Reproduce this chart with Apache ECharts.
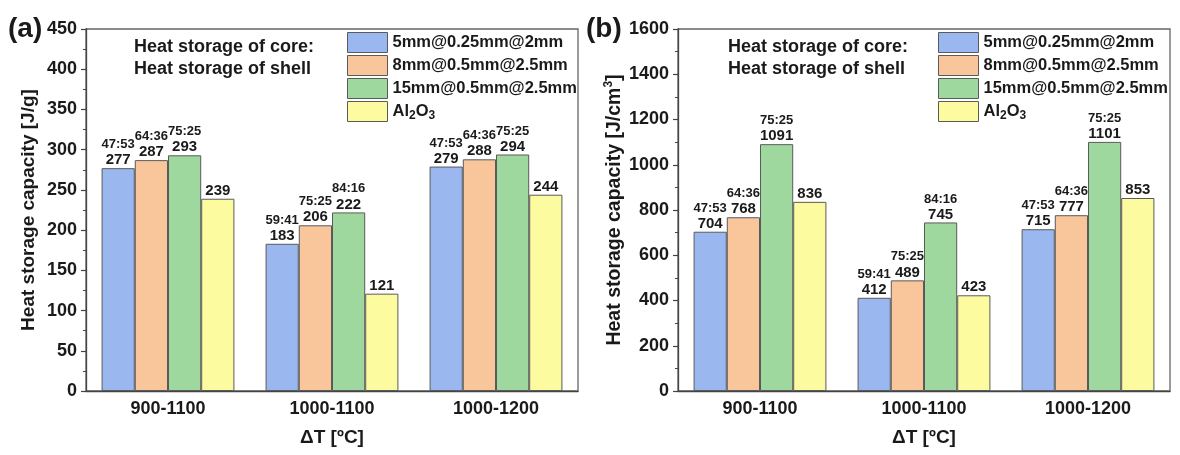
<!DOCTYPE html>
<html>
<head>
<meta charset="utf-8">
<script src="https://cdn.jsdelivr.net/npm/echarts@6/dist/echarts.min.js"></script>
<style>html,body{margin:0;padding:0;background:#fff}#c{width:1180px;height:455px}</style>
</head>
<body>
<div id="c"></div>
<script>
// ---- data ----
const categories = ['900-1100', '1000-1100', '1000-1200'];
const seriesNames = ['5mm@0.25mm@2mm', '8mm@0.5mm@2.5mm', '15mm@0.5mm@2.5mm', 'Al2O3'];
// panel (a): J/g
const a_blue = [277, 183, 279];
const a_orange = [287, 206, 288];
const a_green = [293, 222, 294];
const a_yellow = [239, 121, 244];
// panel (b): J/cm3
const b_blue = [704, 412, 715];
const b_orange = [768, 489, 777];
const b_green = [1091, 745, 1101];
const b_yellow = [836, 423, 853];
// core:shell ratios
const r_blue = ['47:53', '59:41', '47:53'];
const r_orange = ['64:36', '75:25', '64:36'];
const r_green = ['75:25', '84:16', '75:25'];
const r_yellow = [null, null, null];
const a_ticks = {min: 0, max: 450, interval: 50};
const b_ticks = {min: 0, max: 1600, interval: 200};

// ---- style ----
const FONT = 'Liberation Sans, Arial, sans-serif';
const colors = ['#9ab7ef', '#f9c59a', '#9fd89e', '#fdfb9f'];
const TXT = '#1a1a1a';

const chart = echarts.init(document.getElementById('c'), null, {renderer: 'canvas'});

function labelFor(ratios) {
  return {
    show: true, position: 'top', distance: 0,
    formatter: p => {
      const r = ratios[p.dataIndex];
      return r ? '{r|' + r + '}\n{v|' + p.value + '}' : '{v|' + p.value + '}';
    },
    rich: {
      r: {fontFamily: FONT, fontSize: 13, fontWeight: 'bold', color: TXT, lineHeight: 15},
      v: {fontFamily: FONT, fontSize: 15, fontWeight: 'bold', color: TXT, lineHeight: 16}
    }
  };
}

function mkSeries(gi, arrs, ratioArrs) {
  return arrs.map((d, i) => ({
    type: 'bar', name: seriesNames[i], xAxisIndex: gi, yAxisIndex: gi, data: d,
    barGap: '0%', barCategoryGap: '19%',
    itemStyle: {color: colors[i], borderColor: '#5a5a5a', borderWidth: 1},
    label: labelFor(ratioArrs[i]),
    emphasis: {disabled: true}
  }));
}

const legendRich = {
  n: {fontFamily: FONT, fontSize: 16.5, fontWeight: 'bold', color: TXT, lineHeight: 20},
  s: {fontFamily: FONT, fontSize: 12, fontWeight: 'bold', color: TXT, lineHeight: 13, verticalAlign: 'bottom'}
};
function legendFmt(name) {
  if (name === 'Al2O3') return '{n|Al}{s|2}{n|O}{s|3}';
  return '{n|' + name + '}';
}
function mkLegend(left) {
  return {
    left: left, top: 32, padding: 0, orient: 'vertical', itemWidth: 40, itemHeight: 20, itemGap: 2,
    icon: 'rect', data: seriesNames, selectedMode: false,
    itemStyle: {borderColor: '#5a5a5a', borderWidth: 1},
    formatter: legendFmt,
    textStyle: {rich: legendRich}
  };
}

function mkY(gi, t, nameRich) {
  return {
    type: 'value', gridIndex: gi, min: t.min, max: t.max, interval: t.interval,
    name: nameRich, nameLocation: 'middle', nameGap: gi === 0 ? 45 : 44, nameRotate: 90,
    nameTextStyle: {
      fontFamily: FONT, fontSize: 19, fontWeight: 'bold', color: TXT,
      rich: {
        m: {fontFamily: FONT, fontSize: gi === 0 ? 19 : 19.5, fontWeight: 'bold', color: TXT, lineHeight: 24},
        sup: {fontFamily: FONT, fontSize: 12, fontWeight: 'bold', color: TXT, lineHeight: 12, verticalAlign: 'top'}
      }
    },
    axisLine: {show: true, lineStyle: {color: '#444', width: 1.3}},
    axisTick: {show: true, length: 5, lineStyle: {color: '#444', width: 1.2}},
    minorTick: {show: true, splitNumber: 2, length: 3, lineStyle: {color: '#444', width: 1}},
    splitLine: {show: false},
    axisLabel: {fontFamily: FONT, fontSize: 18, fontWeight: 'bold', color: TXT, margin: 9, formatter: v => String(v)}
  };
}
function mkX(gi) {
  return {
    type: 'category', gridIndex: gi, data: categories,
    name: 'ΔT [ºC]', nameLocation: 'middle', nameGap: 37,
    nameTextStyle: {fontFamily: FONT, fontSize: 19, fontWeight: 'bold', color: TXT},
    axisLine: {show: true, lineStyle: {color: '#444', width: 1.3}},
    axisTick: {show: false},
    axisLabel: {fontFamily: FONT, fontSize: 18, fontWeight: 'bold', color: TXT, margin: 9}
  };
}

function heatText(x) {
  return [
    {type: 'text', left: x, top: 38, style: {text: 'Heat storage of core:', fontFamily: FONT, fontSize: 18, fontWeight: 'bold', fill: TXT}},
    {type: 'text', left: x, top: 60, style: {text: 'Heat storage of shell', fontFamily: FONT, fontSize: 18, fontWeight: 'bold', fill: TXT}}
  ];
}

chart.setOption({
  animation: false,
  backgroundColor: '#fff',
  grid: [
    {left: 86, right: 602, top: 29, bottom: 64, show: true, borderColor: '#666', borderWidth: 1.3, backgroundColor: 'transparent'},
    {left: 678, right: 10, top: 29, bottom: 64, show: true, borderColor: '#666', borderWidth: 1.3, backgroundColor: 'transparent'}
  ],
  xAxis: [mkX(0), mkX(1)],
  yAxis: [
    mkY(0, a_ticks, '{m|Heat storage capacity [J/g]}'),
    mkY(1, b_ticks, '{m|Heat storage capacity [J/cm}{sup|3}{m|]}')
  ],
  legend: [mkLegend(347), mkLegend(938)],
  series: [].concat(
    mkSeries(0, [a_blue, a_orange, a_green, a_yellow], [r_blue, r_orange, r_green, r_yellow]),
    mkSeries(1, [b_blue, b_orange, b_green, b_yellow], [r_blue, r_orange, r_green, r_yellow])
  ),
  graphic: [
    {type: 'text', left: 8, top: 15, style: {text: '(a)', fontFamily: FONT, fontSize: 28, fontWeight: 'bold', fill: TXT}},
    {type: 'text', left: 586, top: 15, style: {text: '(b)', fontFamily: FONT, fontSize: 28, fontWeight: 'bold', fill: TXT}}
  ].concat(heatText(134), heatText(728))
});
</script>
</body>
</html>
